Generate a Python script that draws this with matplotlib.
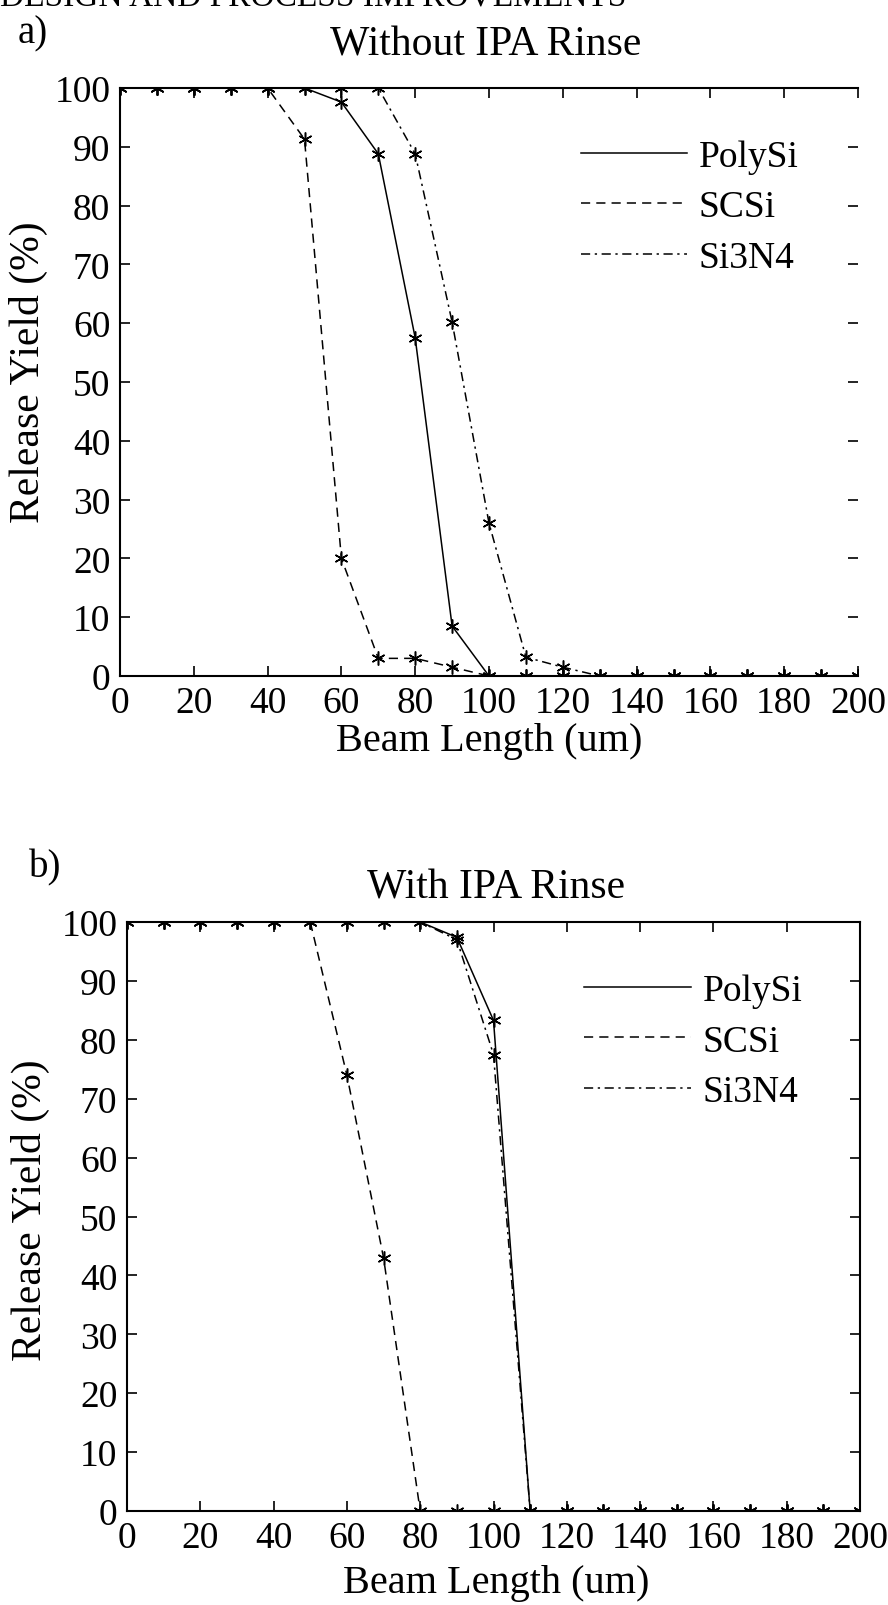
import matplotlib
matplotlib.use('Agg')
from matplotlib import pyplot as plt

plt.rcParams['font.family'] = ['Liberation Serif', 'DejaVu Serif']

# beam length (um), same for every series
length = [0, 10, 20, 30, 40, 50, 60, 70, 80, 90, 100,
          110, 120, 130, 140, 150, 160, 170, 180, 190, 200]

# a) without IPA rinse
poly_a = [100, 100, 100, 100, 100, 100, 97.6, 88.8, 57.5, 8.5, 0,
          0, 0, 0, 0, 0, 0, 0, 0, 0, 0]
scsi_a = [100, 100, 100, 100, 100, 91.3, 20, 3, 3, 1.5, 0,
          0, 0, 0, 0, 0, 0, 0, 0, 0, 0]
si3n4_a = [100, 100, 100, 100, 100, 100, 100, 100, 88.8, 60.2, 26,
           3.2, 1.5, 0, 0, 0, 0, 0, 0, 0, 0]

# b) with IPA rinse
poly_b = [100, 100, 100, 100, 100, 100, 100, 100, 100, 97.4, 83.3,
          0, 0, 0, 0, 0, 0, 0, 0, 0, 0]
scsi_b = [100, 100, 100, 100, 100, 100, 74, 43, 0, 0, 0,
          0, 0, 0, 0, 0, 0, 0, 0, 0, 0]
si3n4_b = [100, 100, 100, 100, 100, 100, 100, 100, 100, 97, 77.5,
           0, 0, 0, 0, 0, 0, 0, 0, 0, 0]

names = ['PolySi', 'SCSi', 'Si3N4']
styles = ['-', (0, (6, 4)), (0, (6, 3, 1.5, 3))]

W, H = 888, 1606
fig = plt.figure(figsize=(W / 100., H / 100.), dpi=100)


def px(x0, y0, x1, y1):
    # pixel box -> figure fraction rect
    return [x0 / W, 1 - y1 / H, (x1 - x0) / W, (y1 - y0) / H]


def panel(rect, series, right_spine):
    ax = fig.add_axes(rect)
    for ys, ls, nm in zip(series, styles, names):
        ax.plot(length, ys, color='black', linestyle=ls, linewidth=1.1,
                marker=(6, 2, 0), markersize=10, markeredgewidth=1.1,
                label=nm)
    ax.set_xlim(0, 200)
    ax.set_ylim(0, 100)
    ax.set_xticks(range(0, 201, 20))
    ax.set_yticks(range(0, 101, 10))
    ax.tick_params(direction='in', top=True, right=True, length=7,
                   width=1.2, labelsize=27, pad=7)
    for s in ax.spines.values():
        s.set_linewidth(1.5)
    ax.spines['right'].set_visible(right_spine)
    lg = ax.legend(loc='upper left', bbox_to_anchor=(0.624, 0.912),
                   frameon=False, fontsize=27, handlelength=2.85,
                   handletextpad=0.3, labelspacing=0.42, borderpad=0,
                   borderaxespad=0)
    for h in lg.legend_handles:
        h.set_marker('')
    return ax


ax1 = panel(px(120, 89, 858, 677), [poly_a, scsi_a, si3n4_a], False)
ax2 = panel(px(127, 923, 860, 1512), [poly_b, scsi_b, si3n4_b], True)


def t(x, y, s, **kw):
    fig.text(x / W, 1 - y / H, s, ha='center', va='center', **kw)

# running head, cut off at the top of the scan
fig.text(0.0, 1 - 6 / H, 'DESIGN AND PROCESS IMPROVEMENTS', ha='left',
         va='baseline', fontsize=24)

t(33, 34, 'a)', fontsize=28)
t(486, 45, 'Without IPA Rinse', fontsize=30)
t(489, 742, 'Beam Length (um)', fontsize=29)
t(28, 372, 'Release Yield (%)', fontsize=30, rotation=90)

t(45, 868, 'b)', fontsize=28)
t(496, 888, 'With IPA Rinse', fontsize=30)
t(496, 1584, 'Beam Length (um)', fontsize=29)
t(30, 1210, 'Release Yield (%)', fontsize=30, rotation=90)

fig.savefig('out.png', dpi=100)
